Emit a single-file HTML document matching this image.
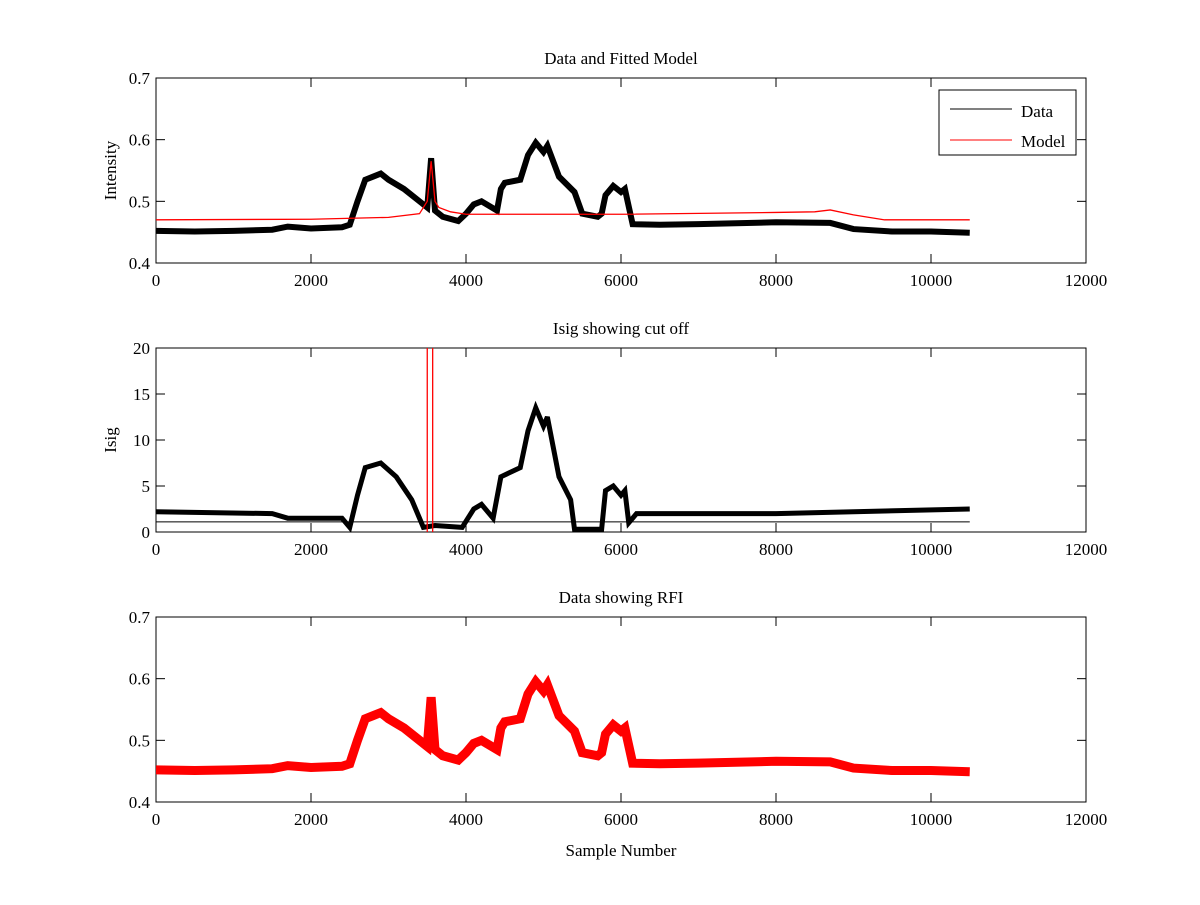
<!DOCTYPE html>
<html><head><meta charset="utf-8"><style>
body{margin:0;background:#fff}
svg text{font-family:"Liberation Serif",serif;font-size:17px;fill:#000}
</style></head><body>
<svg id="c" width="1200" height="900"></svg>
<script>
const xTicks=[0,2000,4000,6000,8000,10000,12000];
const intenTicks=[0.4,0.5,0.6,0.7];
const isigTicks=[0,5,10,15,20];
const dataS=[0,500,1000,1500,1700,2000,2400,2500,2600,2700,2800,2900,3000,3200,3400,3500,3550,3600,3700,3900,4000,4100,4200,4400,4450,4500,4700,4800,4900,5000,5050,5200,5400,5500,5700,5750,5800,5900,6000,6050,6150,6500,7000,8000,8700,9000,9500,10000,10500];
const dataV=[0.452,0.451,0.452,0.454,0.459,0.456,0.458,0.462,0.5,0.535,0.54,0.545,0.535,0.52,0.5,0.49,0.57,0.485,0.475,0.468,0.48,0.495,0.5,0.485,0.52,0.53,0.535,0.575,0.595,0.58,0.59,0.54,0.515,0.48,0.475,0.48,0.51,0.525,0.515,0.52,0.463,0.462,0.463,0.466,0.465,0.455,0.451,0.451,0.449];
const modelS=[0,2000,3000,3400,3500,3550,3600,3650,3800,4000,6000,8000,8500,8700,9000,9400,10500];
const modelV=[0.47,0.471,0.474,0.48,0.5,0.565,0.5,0.49,0.483,0.479,0.479,0.482,0.483,0.486,0.478,0.47,0.47];
const isigS=[0,1500,1700,2400,2500,2600,2700,2900,3100,3300,3450,3600,3950,4100,4200,4350,4450,4700,4800,4900,5000,5050,5200,5350,5400,5750,5800,5900,6000,6050,6100,6200,8000,10500];
const isigV=[2.2,2.0,1.5,1.5,0.5,4,7,7.5,6,3.5,0.5,0.7,0.5,2.5,3,1.5,6,7,11,13.5,11.5,12.5,6,3.5,0.3,0.3,4.5,5,4,4.5,1,2,2,2.5];
const cutLevel=1.1;
const cutSamples=[3500,3570];

const svg=document.getElementById('c');
const NS='http://www.w3.org/2000/svg';
function el(t,a,p){const e=document.createElementNS(NS,t);for(const k in a)e.setAttribute(k,a[k]);(p||svg).appendChild(e);return e;}
const L=156,R=1086;
const sx=s=>L+(s/12000)*(R-L);
function panel(top,bot,ymin,ymax,yt,title,ylab,xlab,name){
  const g=el('g',{});
  
  
  const sy=v=>bot-(v-ymin)/(ymax-ymin)*(bot-top);
  el('rect',{x:L,y:top,width:R-L,height:bot-top,fill:'none',stroke:'#000','stroke-width':1},g);
  xTicks.forEach(t=>{const x=sx(t);
    el('line',{x1:x,x2:x,y1:bot,y2:bot-9,stroke:'#000'},g);
    el('line',{x1:x,x2:x,y1:top,y2:top+9,stroke:'#000'},g);
    const tx=el('text',{x:x,y:bot+23,'text-anchor':'middle'},g);tx.textContent=t;
    
    });
  yt.forEach(t=>{const y=sy(t);
    el('line',{x1:L,x2:L+9,y1:y,y2:y,stroke:'#000'},g);
    el('line',{x1:R,x2:R-9,y1:y,y2:y,stroke:'#000'},g);
    const tx=el('text',{x:L-6,y:y+6,'text-anchor':'end'},g);tx.textContent=t;
    
    });
  const tt=el('text',{x:(L+R)/2,y:top-14,'text-anchor':'middle'},g);tt.textContent=title;
  
  
  if(ylab){const yl=el('text',{x:0,y:0,'text-anchor':'middle',transform:`translate(${L-40},${(top+bot)/2}) rotate(-90)`},g);yl.textContent=ylab;
    
    }
  if(xlab){const xl=el('text',{x:(L+R)/2,y:bot+54,'text-anchor':'middle'},g);xl.textContent=xlab;
    
    }
  return {g,sy};
}
function line(g,S,V,sy,col,w,name){
  const p=el('polyline',{points:S.map((s,i)=>sx(s)+','+sy(V[i])).join(' '),fill:'none',stroke:col,'stroke-width':w,'stroke-linejoin':'miter','stroke-miterlimit':3},g);
  
  
}
const p1=panel(78,263,0.4,0.7,intenTicks,'Data and Fitted Model','Intensity',null,'panel-data-model');
line(p1.g,dataS,dataV,p1.sy,'#000',6,'data-series');
line(p1.g,modelS,modelV,p1.sy,'#f00',1.3,'model-series');
const lg=el('g',{},p1.g);


el('rect',{x:939,y:90,width:137,height:65,fill:'#fff',stroke:'#000'},lg);
el('line',{x1:950,x2:1012,y1:109,y2:109,stroke:'#000'},lg);
el('line',{x1:950,x2:1012,y1:140,y2:140,stroke:'#f00'},lg);
let t=el('text',{x:1021,y:117},lg);t.textContent='Data';
t=el('text',{x:1021,y:147},lg);t.textContent='Model';

const p2=panel(348,532,0,20,isigTicks,'Isig showing cut off','Isig',null,'panel-isig');
line(p2.g,isigS,isigV,p2.sy,'#000',5,'isig-series');
const cl=el('line',{x1:sx(0),x2:sx(10500),y1:p2.sy(cutLevel),y2:p2.sy(cutLevel),stroke:'#000','stroke-width':1},p2.g);


cutSamples.forEach(s=>{const v=el('line',{x1:sx(s),x2:sx(s),y1:348,y2:532,stroke:'#f00','stroke-width':1.3},p2.g);
  
  });

const p3=panel(617,802,0.4,0.7,intenTicks,'Data showing RFI',null,'Sample Number','panel-rfi');
line(p3.g,dataS,dataV,p3.sy,'#f00',9,'rfi-series');
</script>
</body></html>
